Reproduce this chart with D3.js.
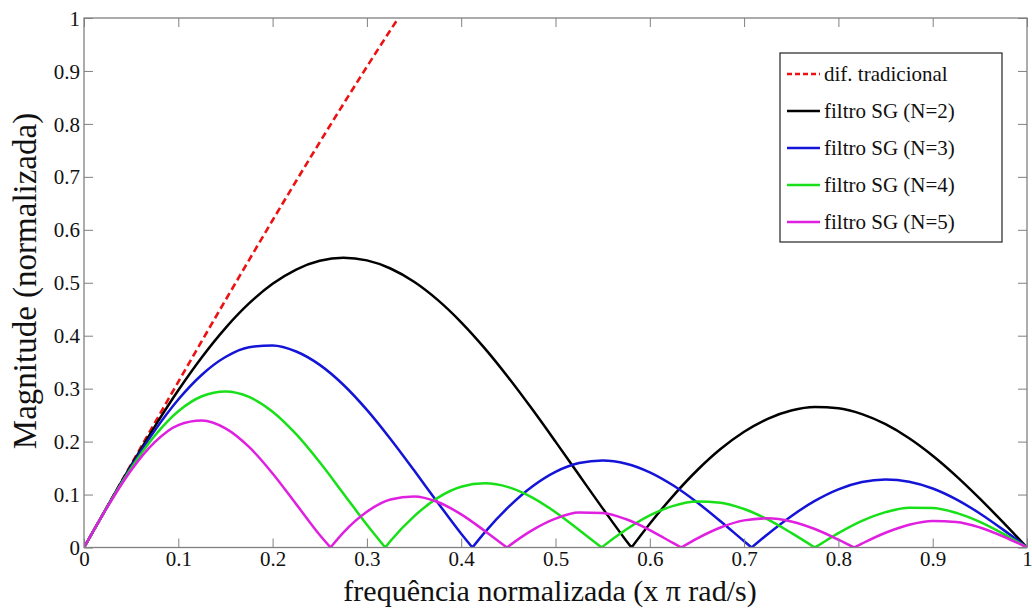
<!DOCTYPE html>
<html>
<head>
<meta charset="utf-8">
<script src="https://cdn.jsdelivr.net/npm/d3@7"></script>
<style>
  html, body { margin: 0; padding: 0; background: #fff; }
  svg { display: block; }
  svg text { font-family: "Liberation Serif", "DejaVu Serif", serif !important; fill: #111; }
</style>
</head>
<body>
<svg id="chart" width="1032" height="612"></svg>
<script>
// ---- data ----
const freq = [0, 0.025, 0.05, 0.075, 0.1, 0.125, 0.15, 0.175, 0.2, 0.225, 0.25, 0.275, 0.3, 0.325, 0.35, 0.375, 0.4, 0.425, 0.45, 0.475, 0.5,
              0.525, 0.55, 0.575, 0.6, 0.625, 0.65, 0.675, 0.7, 0.725, 0.75, 0.775, 0.8, 0.825, 0.85, 0.875, 0.9, 0.925, 0.95, 0.975, 1];

const redFreq = [0, 0.025, 0.05, 0.075, 0.1, 0.125, 0.15, 0.175, 0.2, 0.225, 0.25, 0.275, 0.3, 0.325, 0.35];
const redMag  = [0, 0.0785, 0.157, 0.2351, 0.3129, 0.3902, 0.4669, 0.5428, 0.618, 0.6922, 0.7654, 0.8373, 0.908, 0.9772, 1.045];

const magN2 = [0, 0.0783, 0.1549, 0.2283, 0.2969, 0.3594, 0.4144, 0.4609, 0.498, 0.525, 0.5414, 0.5472, 0.5422, 0.5269, 0.5018, 0.4676, 0.4253,
               0.3761, 0.3211, 0.2619, 0.2, 0.1368, 0.0739, 0.0129, 0.0449, 0.0981, 0.1454, 0.1859, 0.2186, 0.243, 0.2586, 0.2652, 0.2629,
               0.2519, 0.2328, 0.2063, 0.1733, 0.1349, 0.0923, 0.0469, 0];
const magN3 = [0, 0.078, 0.1526, 0.2207, 0.2794, 0.3263, 0.3597, 0.3782, 0.3817, 0.3702, 0.3449, 0.3074, 0.2599, 0.205, 0.1457, 0.085, 0.026,
               0.0286, 0.0762, 0.1148, 0.1429, 0.1595, 0.1645, 0.1583, 0.142, 0.117, 0.0854, 0.0496, 0.0119, 0.0252, 0.0592, 0.088, 0.1099,
               0.1237, 0.1285, 0.1243, 0.1115, 0.091, 0.0643, 0.0333, 0];
const magN4 = [0, 0.0776, 0.1496, 0.2109, 0.2572, 0.2856, 0.2947, 0.2844, 0.2565, 0.214, 0.1609, 0.1022, 0.0429, 0.0122, 0.0588, 0.0937, 0.1147,
               0.1212, 0.114, 0.0948, 0.0667, 0.0332, 0.0016, 0.034, 0.0606, 0.0787, 0.0869, 0.0847, 0.0728, 0.053, 0.0276, 0.0001, 0.0271,
               0.0502, 0.0668, 0.0753, 0.0748, 0.0654, 0.0484, 0.0257, 0];
const magN5 = [0, 0.0771, 0.1459, 0.199, 0.2312, 0.2398, 0.225, 0.1899, 0.1399, 0.0819, 0.0235, 0.0282, 0.0675, 0.0906, 0.0964, 0.0859, 0.0626,
               0.0313, 0.0021, 0.0323, 0.0545, 0.0659, 0.0652, 0.0533, 0.033, 0.0081, 0.0169, 0.0378, 0.0512, 0.0551, 0.0492, 0.0349, 0.0148,
               0.0074, 0.0278, 0.0429, 0.0501, 0.0483, 0.0379, 0.0208, 0];

// frequencies where each response drops to zero (notches)
const zerosN2 = [0.5806];
const zerosN3 = [0.4119, 0.708];
const zerosN4 = [0.3195, 0.5489, 0.7749];
const zerosN5 = [0.2614, 0.4484, 0.6332, 0.8166];

const legendLabels = ["dif. tradicional", "filtro SG (N=2)", "filtro SG (N=3)", "filtro SG (N=4)", "filtro SG (N=5)"];
const colors = ["#ee1111", "#000000", "#1414d8", "#18e018", "#e020e0"];
const xTicks = [0, 0.1, 0.2, 0.3, 0.4, 0.5, 0.6, 0.7, 0.8, 0.9, 1];
const yTicks = [0, 0.1, 0.2, 0.3, 0.4, 0.5, 0.6, 0.7, 0.8, 0.9, 1];

// ---- layout ----
const svg = d3.select("#chart");
const L = 84, R = 1027, T = 18, B = 547.5;
const x = d3.scaleLinear().domain([0, 1]).range([L, R]);
const y = d3.scaleLinear().domain([0, 1]).range([B, T]);
const axisColor = "#808080";
const SERIF = '"Liberation Serif", "DejaVu Serif", serif';

svg.append("defs").append("clipPath").attr("id", "clip")
  .append("rect").attr("x", L).attr("y", T).attr("width", R - L).attr("height", B - T);

// build series (insert notch points, split into lobes)
function buildSeries(vals, zeros) {
  const pts = freq.map((f, i) => ({ f: f, v: vals[i] }));
  zeros.forEach(z => pts.push({ f: z, v: 0 }));
  pts.sort((a, b) => a.f - b.f);
  const lobes = [];
  let cur = [];
  pts.forEach((p, i) => {
    cur.push(p);
    if (p.v === 0 && i > 0 && i < pts.length - 1) {
      lobes.push(cur);
      cur = [p];
    }
  });
  lobes.push(cur);
  return lobes;
}

const line = d3.line().x(d => x(d.f)).y(d => y(d.v)).curve(d3.curveMonotoneX);
const plot = svg.append("g").attr("clip-path", "url(#clip)");

// red dashed traditional difference
plot.append("path")
  .datum(redFreq.map((f, i) => ({ f: f, v: redMag[i] })))
  .attr("d", line)
  .attr("fill", "none").attr("stroke", colors[0]).attr("stroke-width", 2.6)
  .attr("stroke-dasharray", "7,4");

[[magN2, zerosN2], [magN3, zerosN3], [magN4, zerosN4], [magN5, zerosN5]].forEach((s, k) => {
  const lobes = buildSeries(s[0], s[1]);
  const d = lobes.map(l => line(l)).join("");
  plot.append("path").attr("d", d)
    .attr("fill", "none").attr("stroke", colors[k + 1]).attr("stroke-width", 2.5)
    .attr("stroke-linejoin", "round");
});

// ---- axes (box with inward ticks) ----
const tickLen = 9;
const fs = 21;
const ax = svg.append("g");
ax.append("g").attr("transform", `translate(0,${B})`)
  .call(d3.axisBottom(x).tickValues(xTicks).tickSize(-tickLen).tickFormat(d3.format("")))
  .call(g => { g.attr("font-family", SERIF).attr("font-size", fs);
               g.select(".domain").remove(); g.selectAll("line").attr("stroke", axisColor);
               g.selectAll("text").attr("dy", "0.75em").attr("y", 3); });
ax.append("g").attr("transform", `translate(0,${T})`)
  .call(d3.axisTop(x).tickValues(xTicks).tickSize(-tickLen).tickFormat(""))
  .call(g => { g.select(".domain").remove(); g.selectAll("line").attr("stroke", axisColor); });
ax.append("g").attr("transform", `translate(${L},0)`)
  .call(d3.axisLeft(y).tickValues(yTicks).tickSize(-tickLen).tickFormat(d3.format("")))
  .call(g => { g.attr("font-family", SERIF).attr("font-size", fs);
               g.select(".domain").remove(); g.selectAll("line").attr("stroke", axisColor);
               g.selectAll("text").attr("x", -4).attr("dy", "0.34em"); });
ax.append("g").attr("transform", `translate(${R},0)`)
  .call(d3.axisRight(y).tickValues(yTicks).tickSize(-tickLen).tickFormat(""))
  .call(g => { g.select(".domain").remove(); g.selectAll("line").attr("stroke", axisColor); });
ax.append("rect").attr("x", L).attr("y", T).attr("width", R - L).attr("height", B - T)
  .attr("fill", "none").attr("stroke", axisColor).attr("stroke-width", 1.3);

// axis titles
svg.append("text").attr("x", 550).attr("y", 601).attr("text-anchor", "middle")
  .attr("font-family", SERIF).attr("font-size", 30).text("frequência normalizada (x π rad/s)");
svg.append("text").attr("transform", `translate(36,281) rotate(-90)`).attr("text-anchor", "middle")
  .attr("font-family", SERIF).attr("font-size", 33).text("Magnitude (normalizada)");

// ---- legend ----
const lg = svg.append("g");
lg.append("rect").attr("x", 780).attr("y", 53).attr("width", 222).attr("height", 189)
  .attr("fill", "#fff").attr("stroke", "#222").attr("stroke-width", 1.2);
legendLabels.forEach((lab, i) => {
  const yy = 74 + i * 37;
  lg.append("line").attr("x1", 787).attr("x2", 820).attr("y1", yy).attr("y2", yy)
    .attr("stroke", colors[i]).attr("stroke-width", 2.5)
    .attr("stroke-dasharray", i === 0 ? "5,3" : null);
  lg.append("text").attr("x", 824).attr("y", yy).attr("dy", "0.35em")
    .attr("font-family", SERIF).attr("font-size", 21).text(lab);
});
</script>
</body>
</html>
